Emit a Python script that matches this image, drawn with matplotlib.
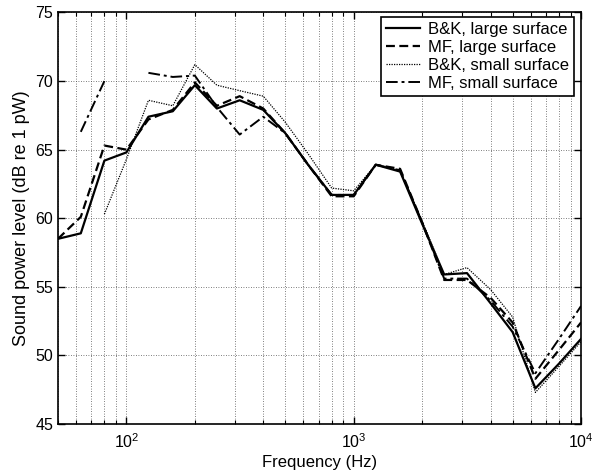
import numpy as np
import matplotlib
matplotlib.use("Agg")
import matplotlib.pyplot as plt
from matplotlib.ticker import LogLocator, FixedLocator, NullFormatter

plt.rcParams['font.family'] = ['Liberation Sans', 'DejaVu Sans']
plt.rcParams['mathtext.fontset'] = 'custom'
plt.rcParams['mathtext.rm'] = 'Liberation Sans'

nan = np.nan
freqs = [50, 63, 80, 100, 125, 160, 200, 250, 315, 400, 500, 630, 800,
         1000, 1250, 1600, 2000, 2500, 3150, 4000, 5000, 6300, 8000, 10000]

bk_large = [58.5, 58.9, 64.2, 64.8, 67.4, 67.8, 69.7, 68.0, 68.6, 67.9, 66.2, 63.9,
            61.7, 61.7, 63.9, 63.4, 59.6, 55.9, 56.0, 53.8, 51.7, 47.6, 49.4, 51.2]
mf_large = [58.5, 60.1, 65.3, 65.0, 67.2, 67.9, 69.9, 68.2, 68.9, 68.0, 66.2, 63.9,
            61.6, 61.6, 63.9, 63.6, 59.7, 55.5, 55.5, 54.2, 52.4, 48.3, 50.4, 52.4]
bk_small = [nan, nan, 60.3, 64.3, 68.6, 68.2, 71.2, 69.7, 69.3, 68.9, 67.0, 64.7,
            62.2, 62.0, 63.9, 63.5, 59.8, 55.9, 56.4, 54.8, 52.8, 47.3, 49.2, 51.0]
mf_small = [nan, 66.3, 70.0, nan, 70.6, 70.3, 70.4, 68.1, 66.1, 67.4, 66.2, 63.9,
            61.7, 61.7, 63.9, 63.5, 59.7, 55.6, 55.6, 54.0, 52.1, 48.7, 51.2, 53.6]

labels = ['B&K, large surface', 'MF, large surface',
          'B&K, small surface', 'MF, small surface']

fig = plt.figure(figsize=(5.99, 4.75), dpi=100)
ax = fig.add_axes([0.0968, 0.1074, 0.9700 - 0.0968, 0.9737 - 0.1074])

ax.plot(freqs, bk_large, color='black', linestyle='-', linewidth=1.6, label=labels[0])
ax.plot(freqs, mf_large, color='black', linestyle=(0, (4, 2)), linewidth=1.6, label=labels[1])
ax.plot(freqs, bk_small, color='black', linestyle=(0, (1, 1)), linewidth=0.9, label=labels[2])
ax.plot(freqs, mf_small, color='black', linestyle=(0, (6, 2, 1.5, 2)), linewidth=1.4, label=labels[3])

ax.set_xscale('log')
ax.set_xlim(50, 10000)
ax.set_ylim(45, 75)
ax.set_yticks([45, 50, 55, 60, 65, 70, 75])
ax.xaxis.set_major_locator(FixedLocator([100, 1000, 10000]))
ax.set_xticklabels([r'$10^2$', r'$10^3$', r'$10^4$'])
ax.xaxis.set_minor_locator(LogLocator(base=10, subs=np.arange(2, 10), numticks=20))
ax.xaxis.set_minor_formatter(NullFormatter())

ax.grid(True, which='major', axis='both', color='#555555', linestyle=(0, (1, 2)), linewidth=0.6)
ax.grid(True, which='minor', axis='x', color='#555555', linestyle=(0, (1, 2)), linewidth=0.6)

ax.tick_params(which='both', direction='in', top=True, right=True, labelsize=11.5)
ax.tick_params(axis='x', which='major', pad=6)
ax.tick_params(which='major', length=5, width=1)
ax.tick_params(which='minor', length=3, width=0.8)
for s in ax.spines.values():
    s.set_linewidth(1.2)

ax.set_xlabel('Frequency (Hz)', fontsize=12, labelpad=3)
ax.set_ylabel('Sound power level (dB re 1 pW)', fontsize=13, labelpad=4)

leg = ax.legend(loc='upper right', bbox_to_anchor=(0.9866, 0.989), fontsize=12,
                frameon=True, fancybox=False, edgecolor='black', handlelength=2.0,
                borderpad=0.3, labelspacing=0.18, handletextpad=0.5, borderaxespad=0)
leg.get_frame().set_linewidth(1.2)
leg.get_frame().set_alpha(1)

fig.savefig('out.png', dpi=100)
